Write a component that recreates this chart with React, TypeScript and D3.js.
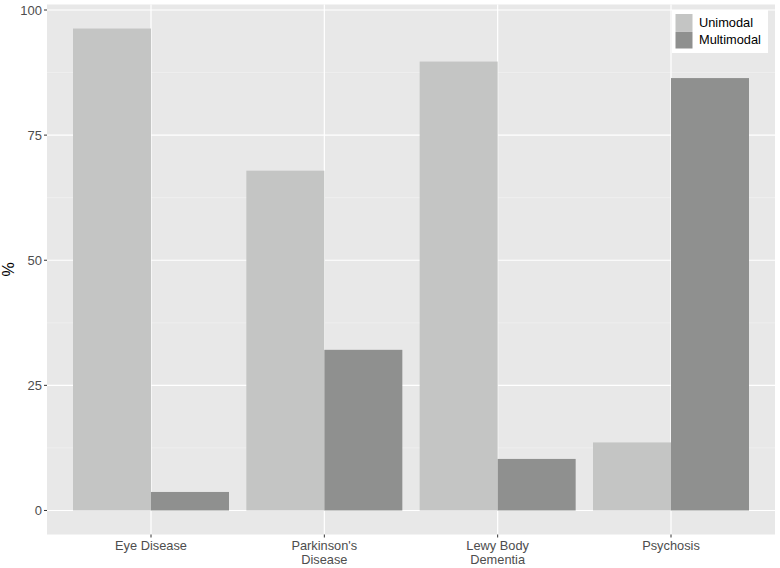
import { useEffect, useRef } from 'react';
import * as d3 from 'd3';

const categories = ['Eye Disease', "Parkinson's\nDisease", 'Lewy Body\nDementia', 'Psychosis'];
const seriesNames = ['Unimodal', 'Multimodal'];
const unimodal = [96.3, 67.9, 89.7, 13.6];
const multimodal = [3.7, 32.1, 10.3, 86.4];
const yTicks = [0, 25, 50, 75, 100];
const colors = ['#c4c5c4', '#8f908f'];

export default function App() {
  const svgRef = useRef<SVGSVGElement>(null);

  useEffect(() => {
    if (!svgRef.current) return;
    const svg = d3.select(svgRef.current);
    svg.selectAll('*').remove();

    const W = 780, H = 568;
    const panel = { left: 47, right: 775, top: 4.5, bottom: 534.5 };
    const font = 'Helvetica, Arial, "Liberation Sans", sans-serif';

    const x = d3.scaleLinear().domain([0.4, 4.6]).range([panel.left, panel.right]);
    const y = d3.scaleLinear().domain([-4.8, 101.1]).range([panel.bottom, panel.top]);

    svg.attr('width', W).attr('height', H);
    svg.append('rect').attr('width', W).attr('height', H).attr('fill', '#ffffff');

    // panel background
    svg.append('rect')
      .attr('x', panel.left).attr('y', panel.top)
      .attr('width', panel.right - panel.left).attr('height', panel.bottom - panel.top)
      .attr('fill', '#e8e8e8');

    // minor grid
    d3.range(12.5, 100, 25).forEach(v => {
      svg.append('line')
        .attr('x1', panel.left).attr('x2', panel.right)
        .attr('y1', y(v)).attr('y2', y(v))
        .attr('stroke', '#f4f4f4').attr('stroke-width', 0.6);
    });
    // major grid
    yTicks.forEach(v => {
      svg.append('line')
        .attr('x1', panel.left).attr('x2', panel.right)
        .attr('y1', y(v)).attr('y2', y(v))
        .attr('stroke', '#ffffff').attr('stroke-width', 1.2);
    });
    categories.forEach((_, i) => {
      svg.append('line')
        .attr('x1', x(i + 1)).attr('x2', x(i + 1))
        .attr('y1', panel.top).attr('y2', panel.bottom)
        .attr('stroke', '#ffffff').attr('stroke-width', 1.2);
    });

    // bars
    const barW = 0.45;
    const series = [unimodal, multimodal];
    series.forEach((vals, s) => {
      svg.append('g').selectAll('rect')
        .data(vals)
        .join('rect')
        .attr('x', (_, i) => x(i + 1 - barW + s * barW))
        .attr('width', x(barW) - x(0))
        .attr('y', d => y(d))
        .attr('height', d => y(0) - y(d))
        .attr('fill', colors[s]);
    });

    // y axis
    const yAxis = svg.append('g');
    yTicks.forEach(v => {
      yAxis.append('line')
        .attr('x1', panel.left - 3).attr('x2', panel.left)
        .attr('y1', y(v)).attr('y2', y(v))
        .attr('stroke', '#333333').attr('stroke-width', 1);
      yAxis.append('text')
        .attr('x', panel.left - 5).attr('y', y(v))
        .attr('dy', '0.35em')
        .attr('text-anchor', 'end')
        .attr('font-family', font).attr('font-size', 13)
        .attr('fill', '#4d4d4d')
        .text(v);
    });

    // x axis
    const xAxis = svg.append('g');
    categories.forEach((c, i) => {
      const cx = x(i + 1);
      xAxis.append('line')
        .attr('x1', cx).attr('x2', cx)
        .attr('y1', panel.bottom).attr('y2', panel.bottom + 3)
        .attr('stroke', '#333333').attr('stroke-width', 1);
      const t = xAxis.append('text')
        .attr('x', cx).attr('y', 550)
        .attr('text-anchor', 'middle')
        .attr('font-family', font).attr('font-size', 12.8)
        .attr('fill', '#4d4d4d');
      c.split('\n').forEach((line, k) => {
        t.append('tspan').attr('x', cx).attr('dy', k === 0 ? 0 : 13.5).text(line);
      });
    });

    // y label
    svg.append('text')
      .attr('transform', `translate(14,${(panel.top + panel.bottom) / 2}) rotate(-90)`)
      .attr('text-anchor', 'middle')
      .attr('font-family', font).attr('font-size', 16)
      .attr('fill', '#000000')
      .text('%');

    // legend
    const lg = svg.append('g').attr('transform', 'translate(672,10)');
    lg.append('rect').attr('width', 96).attr('height', 43).attr('fill', '#ffffff');
    seriesNames.forEach((n, i) => {
      lg.append('rect')
        .attr('x', 3.5).attr('y', 4 + i * 17.5)
        .attr('width', 17).attr('height', 17)
        .attr('fill', colors[i]);
      lg.append('text')
        .attr('x', 27).attr('y', 12.5 + i * 17.5)
        .attr('dy', '0.35em')
        .attr('font-family', font).attr('font-size', 12.8)
        .attr('fill', '#000000')
        .text(n);
    });
  }, []);

  return <svg ref={svgRef} style={{ display: 'block', position: 'absolute', left: 0, top: 0 }} />;
}
